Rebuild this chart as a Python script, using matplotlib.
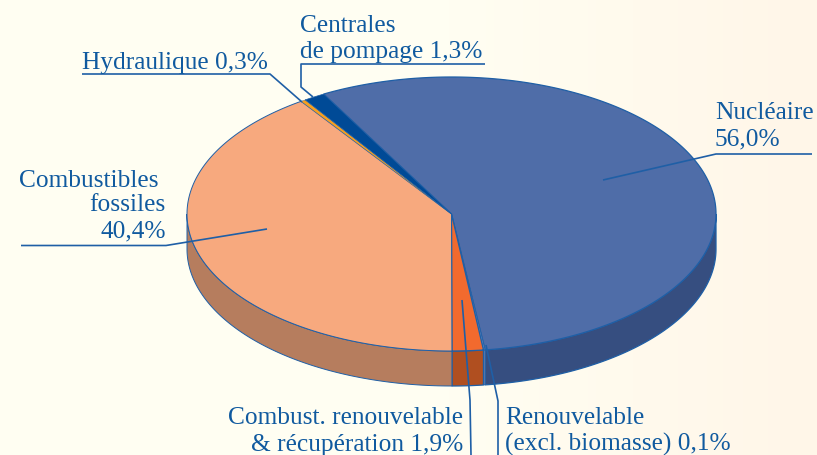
import numpy as np
import matplotlib
matplotlib.use("Agg")
import matplotlib.pyplot as plt

# clockwise from the top-left edge of the nuclear slice
sources = ['Nucléaire', 'Renouvelable', 'Combust. renouvelable', 'Combustibles fossiles', 'Hydraulique', 'Centrales de pompage']
shares = [56.0, 0.1, 1.9, 40.4, 0.3, 1.3]
top_colors = ['#4F6DA8', '#5F86BE', '#F26A2E', '#F7A97E', '#F79F1F', '#004A96']
side_colors = ['#364E80', '#6A80AC', '#B04F20', '#B67D5E', '#B07020', '#003A70']
edge_widths = [0.9, 0.5, 0.9, 0.7, 0.25, 0.5]

line_col = '#1F5FA6'
text_col = '#105A9F'

cx, cy = 451.5, 214
rx, ry = 264.5, 137
depth = 35
start_angle = 118.9

plt.rcParams['font.family'] = ['Liberation Serif', 'DejaVu Serif']

fig = plt.figure(figsize=(8.17, 4.55), dpi=100)
ax = fig.add_axes([0, 0, 1, 1])
ax.set_xlim(0, 817)
ax.set_ylim(455, 0)
ax.axis('off')

# pale background, warmer on the right
left = np.array([255, 254, 242]) / 255
right = np.array([255, 246, 232]) / 255
t = np.clip((np.linspace(0, 1, 200) - 0.55) / 0.45, 0, 1)[None, :, None]
grad = left[None, None, :] * (1 - t) + right[None, None, :] * t
ax.imshow(grad, extent=(0, 817, 455, 0), aspect='auto', zorder=0)

def ell(a):
    a = np.radians(a)
    return cx + rx * np.cos(a), cy - ry * np.sin(a)

spans = np.array(shares) * 3.6
ends = start_angle - np.cumsum(spans)
starts = ends + spans

# side wall, only the part below the ellipse is visible
for a0, a1, c, w in zip(starts, ends, side_colors, edge_widths):
    lo, hi = max(a1, -180), min(a0, 0)
    if hi <= lo:
        continue
    a = np.linspace(lo, hi, 120)
    x, y = ell(a)
    ax.fill(np.r_[x, x[::-1]], np.r_[y, y[::-1] + depth], fc=c, ec=line_col, lw=w, zorder=2)

# top face
for a0, a1, c, w in zip(starts, ends, top_colors, edge_widths):
    a = np.linspace(a0, a1, 300)
    x, y = ell(a)
    ax.fill(np.r_[cx, x], np.r_[cy, y], fc=c, ec=line_col, lw=w, zorder=3)

# leader lines
leaders = [
    ([603, 716, 812], [180, 154, 154]),
    ([267, 166, 21], [229, 245.5, 245.5]),
    ([82, 270, 302], [74, 74, 102]),
    ([485, 301, 301, 313], [64, 64, 87, 97]),
    ([462, 470, 471], [300, 400, 455]),
    ([486, 498, 498], [345, 401, 455]),
]
for xs, ys in leaders:
    ax.plot(xs, ys, color=line_col, lw=1.2, zorder=4, solid_capstyle='butt')

fs = 18.3
labels = [
    (715, 113, 'Nucléaire', 'left'),
    (715, 139, '56,0%', 'left'),
    (19, 181, 'Combustibles', 'left'),
    (166, 205, 'fossiles', 'right'),
    (166, 231, '40,4%', 'right'),
    (82, 63, 'Hydraulique 0,3%', 'left'),
    (300, 26, 'Centrales', 'left'),
    (300, 52, 'de pompage 1,3%', 'left'),
    (463, 418, 'Combust. renouvelable', 'right'),
    (463, 445, '& récupération 1,9%', 'right'),
    (505, 418, 'Renouvelable', 'left'),
    (505, 444, '(excl. biomasse) 0,1%', 'left'),
]
for x, y, s, ha in labels:
    ax.text(x, y, s, ha=ha, va='center', fontsize=fs, color=text_col, zorder=5)

fig.savefig('out.png', dpi=100)
